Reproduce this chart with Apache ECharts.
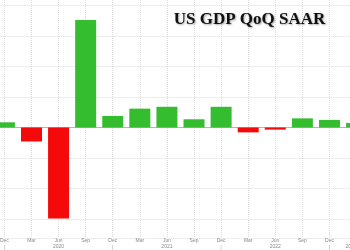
<!DOCTYPE html>
<html>
<head>
<meta charset="utf-8">
<style>
html,body{margin:0;padding:0;background:#fff;}
#c{width:350px;height:250px;}
</style>
<script src="https://cdn.jsdelivr.net/npm/echarts@6/dist/echarts.min.js"></script>
</head>
<body>
<div id="c"></div>
<script>
// Quarter-end month labels (Sep 2019 .. Jun 2023; first and last lie off-canvas)
const months = ['Sep','Dec','Mar','Jun','Sep','Dec','Mar','Jun','Sep','Dec','Mar','Jun','Sep','Dec','Mar','Jun'];
const years  = ['2019','2019','2020','2020','2020','2020','2021','2021','2021','2021','2022','2022','2022','2022','2023','2023'];
// US GDP QoQ SAAR, %
const gdp = ['-', 1.7, -4.6, -29.9, 35.3, 3.8, 6.2, 6.8, 2.7, 6.8, -1.6, -0.7, 3.0, 2.5, 1.5, '-'];
const titleText = 'US GDP QoQ SAAR';

const categories = months.map((m, i) => m + ' ' + years[i]);
const GREEN = '#35bd30';
const RED = '#f40a0a';

const chart = echarts.init(document.getElementById('c'), null, {renderer: 'canvas'});
chart.setOption({
  animation: false,
  backgroundColor: '#ffffff',
  grid: {left: -22.7, right: -33.65, top: -2, bottom: 12, containLabel: false, outerBoundsMode: 'none'},
  xAxis: {
    type: 'category',
    data: categories,
    boundaryGap: false,
    axisLine: {show: true, lineStyle: {color: '#b5b5b5', width: 1}},
    axisTick: {show: false},
    axisLabel: {
      interval: 0,
      margin: 0,
      fontSize: 5,
      lineHeight: 6,
      color: '#8a8a8a',
      fontFamily: 'Liberation Sans, Arial, sans-serif',
      hideOverlap: false,
      formatter: function (val, idx) {
        const m = months[idx];
        const y = years[idx];
        if (m === 'Jun') return m + '\n' + y;
        if (m === 'Dec') return m + '\n{sep||}';
        if (idx === 14) return m + '\n{yr|' + y + '}';
        return m + '\n ';
      },
      rich: {
        sep: {fontSize: 6, lineHeight: 6, color: '#b0b0b0'},
        yr: {fontSize: 5, lineHeight: 6, color: '#8a8a8a', padding: [0, 11, 0, 0]}
      }
    },
    splitLine: {show: true, interval: 0, lineStyle: {color: '#dcdcdc', type: [1, 1], width: 1}}
  },
  yAxis: {
    type: 'value',
    min: -36.29,
    max: 42.53,
    minInterval: 10,
    maxInterval: 10,
    splitNumber: 8,
    axisLine: {show: false},
    axisTick: {show: false},
    axisLabel: {show: false},
    splitLine: {show: true, lineStyle: {color: '#dcdcdc', type: [1, 1], width: 1}}
  },
  graphic: [{
    type: 'text',
    z: 100,
    style: {
      x: 249.5,
      y: 19.5,
      text: titleText,
      textAlign: 'center',
      textVerticalAlign: 'middle',
      fontFamily: 'Liberation Serif, Times New Roman, serif',
      fontWeight: 'bold',
      fontSize: 17,
      fill: '#111111',
      textShadowColor: 'rgba(0,0,0,0.35)',
      textShadowBlur: 2,
      textShadowOffsetX: 1,
      textShadowOffsetY: 1
    }
  }],
  series: [{
    type: 'bar',
    data: gdp,
    barWidth: 21,
    clip: false,
    itemStyle: {
      color: function (p) { return p.value < 0 ? RED : GREEN; }
    }
  }]
});
</script>
</body>
</html>
